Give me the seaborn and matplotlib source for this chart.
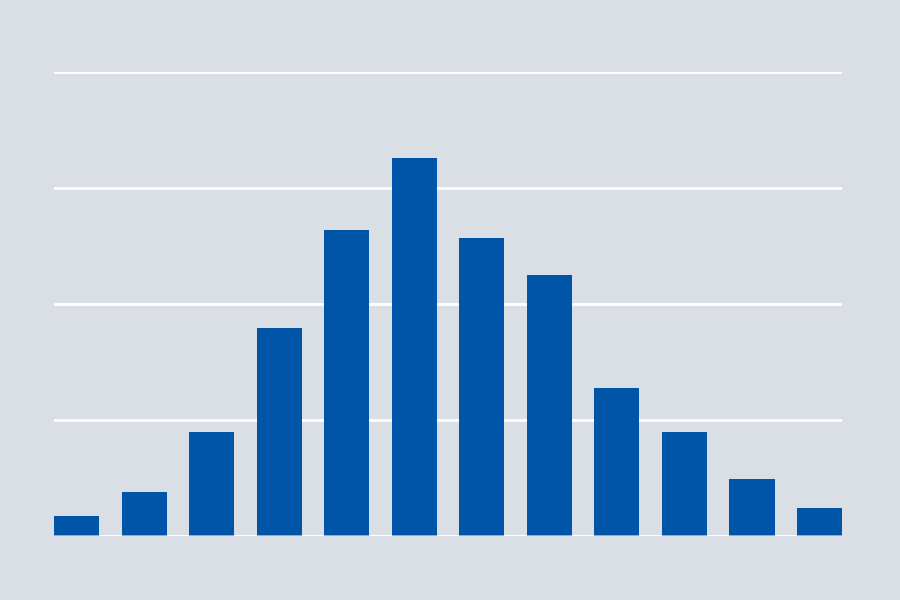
import numpy as np
import pandas as pd
import matplotlib
matplotlib.use("Agg")
import matplotlib.pyplot as plt
import seaborn as sns

categories = [f"c{i}" for i in range(1, 13)]
values = [1.7, 3.8, 9.0, 17.9, 26.4, 32.6, 25.7, 22.5, 12.8, 9.0, 4.9, 2.4]

df = pd.DataFrame({"cat": categories, "val": values})

bg = "#dadee5"
sns.set_theme(style="white", rc={"axes.facecolor": bg, "figure.facecolor": bg})

fig = plt.figure(figsize=(9, 6), dpi=100)
ax = fig.add_axes([0.06, 0.1067, 0.8756, 0.7733])

sns.barplot(data=df, x="cat", y="val", color="#0055a8", width=0.67,
            saturation=1, linewidth=0, ax=ax, zorder=3)

ax.set_ylim(0, 40)
ax.set_xlim(-0.335, 11.335)
ax.set_yticks([0, 10, 20, 30, 40])
ax.yaxis.grid(True, color="white", linewidth=2, zorder=0)
ax.set_axisbelow(True)
ax.tick_params(left=False, bottom=False, labelleft=False, labelbottom=False)
ax.set_xlabel("")
ax.set_ylabel("")
for s in ax.spines.values():
    s.set_visible(False)
ax.axhline(0, color="white", linewidth=2, alpha=0.6, zorder=4)

fig.savefig("out.png", dpi=100, facecolor=bg)
